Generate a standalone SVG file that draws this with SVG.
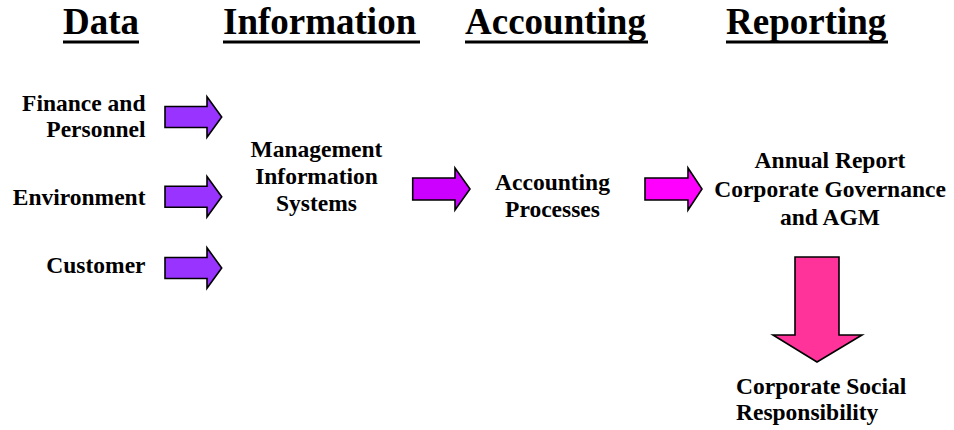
<svg xmlns="http://www.w3.org/2000/svg" width="954" height="430" viewBox="0 0 954 430">
<style>
.h{font-family:"Liberation Serif","Times New Roman",serif;font-weight:bold;font-size:37px;fill:#000}
.t{font-family:"Liberation Serif","Times New Roman",serif;font-weight:bold;font-size:23.5px;fill:#000}
.ar{stroke:#000;stroke-width:1.6;stroke-linejoin:miter}
</style>
<rect width="954" height="430" fill="#fff"/>
<g id="headings">
<text class="h" x="63" y="34">Data</text><rect x="63" y="40.5" width="76" height="3"/>
<text class="h" x="223" y="34">Information</text><rect x="223" y="40.5" width="197" height="3"/>
<text class="h" x="465" y="34">Accounting</text><rect x="465" y="40.5" width="183" height="3"/>
<text class="h" x="726" y="34">Reporting</text><rect x="726" y="40.5" width="162" height="3"/>
</g>
<g id="finance"><text class="t" x="145.5" y="110.7" text-anchor="end">Finance and</text><text class="t" x="145.5" y="136.7" text-anchor="end">Personnel</text></g>
<g id="environment"><text class="t" x="145.5" y="205" text-anchor="end">Environment</text></g>
<g id="customer"><text class="t" x="145.5" y="273" text-anchor="end">Customer</text></g>
<g id="mis"><text class="t" x="316.5" y="157" text-anchor="middle">Management</text><text class="t" x="316.5" y="184" text-anchor="middle">Information</text><text class="t" x="316.5" y="211" text-anchor="middle">Systems</text></g>
<g id="accounting"><text class="t" x="552.5" y="190" text-anchor="middle">Accounting</text><text class="t" x="552.5" y="217" text-anchor="middle">Processes</text></g>
<g id="report"><text class="t" x="830" y="168" text-anchor="middle">Annual Report</text><text class="t" x="830" y="196.5" text-anchor="middle">Corporate Governance</text><text class="t" x="830" y="225" text-anchor="middle">and AGM</text></g>
<g id="csr"><text class="t" x="736" y="394">Corporate Social</text><text class="t" x="736" y="420">Responsibility</text></g>
<g id="connectors">
<polygon class="ar" fill="#9933FF" points="165,106.5 207,106.5 207,96.7 221.7,117 207,137.3 207,127.5 165,127.5"/>
<polygon class="ar" fill="#9933FF" points="165,186.2 207,186.2 207,176.5 221.7,196.7 207,217 207,207.2 165,207.2"/>
<polygon class="ar" fill="#9933FF" points="165,257.5 207,257.5 207,247.8 221.7,268 207,288.2 207,278.5 165,278.5"/>
<polygon class="ar" fill="#CC00FF" points="412.7,178 455,178 455,168 470,189 455,210 455,200 412.7,200"/>
<polygon class="ar" fill="#FF00FF" points="645,178 688,178 688,168 702,189 688,210 688,200 645,200"/>
<polygon class="ar" fill="#FF3399" points="795,257 839,257 839,335 862,335 817,362 773,335 795,335"/>
</g>
</svg>
